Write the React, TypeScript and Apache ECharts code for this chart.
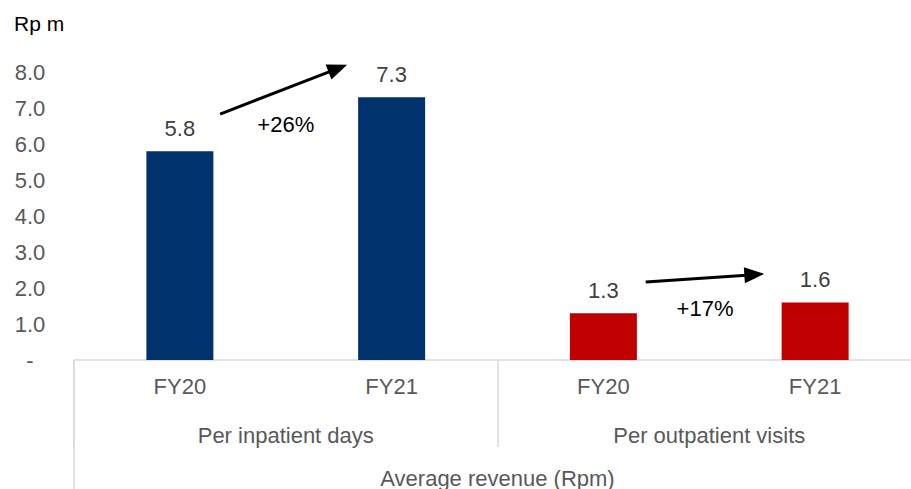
import React, { useEffect, useRef } from "react";
import * as echarts from "echarts";

const categories = ["FY20", "FY21", "FY20", "FY21"];
const groups = ["Per inpatient days", "Per outpatient visits"];
const topGroup = ["Average revenue (Rpm)"];
const values = [5.8, 7.3, 1.3, 1.6];
const barColors = ["#00336B", "#00336B", "#C00000", "#C00000"];
const yTicks = [0, 1, 2, 3, 4, 5, 6, 7, 8];
const growthLabels = ["+26%", "+17%"];

const FONT = "'Liberation Sans', Arial, sans-serif";
const FS = 22;

export default function App() {
  const ref = useRef<HTMLDivElement>(null);
  useEffect(() => {
    if (!ref.current) return;
    const chart = echarts.init(ref.current, undefined, { renderer: "svg" });
    const option: any = {
      animation: false,
      textStyle: { fontFamily: FONT },
      grid: { left: 74, top: 72, bottom: 129, right: 0 },
      title: {
        text: "Rp m",
        left: 9,
        top: 8,
        textStyle: { fontFamily: FONT, fontSize: 21, fontWeight: "normal", color: "#000" },
      },
      xAxis: [
        {
          type: "category",
          data: categories,
          gridIndex: 0,
          axisLine: { show: true, lineStyle: { color: "#D9D9D9", width: 1.5 } },
          axisTick: { show: false },
          axisLabel: { color: "#595959", fontSize: FS, margin: 15, fontFamily: FONT },
        },
        {
          type: "category",
          data: groups,
          gridIndex: 0,
          position: "bottom",
          axisLine: { show: false },
          axisTick: { show: true, length: 87, lineStyle: { color: "#D9D9D9", width: 1.5 } },
          axisLabel: { color: "#595959", fontSize: FS, margin: 64, fontFamily: FONT },
        },
        {
          type: "category",
          data: topGroup,
          gridIndex: 0,
          position: "bottom",
          axisLine: { show: false },
          axisTick: { show: true, length: 130, lineStyle: { color: "#D9D9D9", width: 1.5 } },
          axisLabel: { color: "#595959", fontSize: FS, margin: 107, fontFamily: FONT },
        },
      ],
      yAxis: {
        type: "value",
        min: yTicks[0],
        max: yTicks[yTicks.length - 1],
        interval: 1,
        axisLine: { show: false },
        axisTick: { show: false },
        splitLine: { show: false },
        axisLabel: {
          color: "#595959",
          fontSize: FS,
          align: "center",
          margin: 44,
          fontFamily: FONT,
          formatter: (v: number) => (v === 0 ? "-" : v.toFixed(1)),
        },
      },
      series: [
        {
          type: "bar",
          xAxisIndex: 0,
          barWidth: 67,
          data: values.map((v, i) => ({ value: v, itemStyle: { color: barColors[i] } })),
          label: {
            show: true,
            position: "top",
            distance: 12,
            color: "#404040",
            fontSize: FS,
            fontFamily: FONT,
            formatter: (p: any) => Number(p.value).toFixed(1),
          },
        },
      ],
    };
    chart.setOption(option);

    // annotations (arrows and growth labels) placed relative to the axes
    const p0 = chart.convertToPixel({ gridIndex: 0 }, [0, 0]) as number[];
    const p1 = chart.convertToPixel({ gridIndex: 0 }, [1, 0]) as number[];
    const bw = p1[0] - p0[0];
    const px = (cat: number, off: number, val: number) => {
      const c = chart.convertToPixel({ gridIndex: 0 }, [cat, val]) as number[];
      return [c[0] + off * bw, c[1]];
    };
    const arrows = [
      { from: px(0, 0.19, 6.83), to: px(1, -0.21, 8.2) },
      { from: px(2, 0.2, 2.17), to: px(3, -0.24, 2.39) },
    ];
    const texts = [px(0, 0.5, 6.53), px(2, 0.48, 1.42)];
    const graphic: any[] = [];
    arrows.forEach((a) => {
      const dx = a.to[0] - a.from[0];
      const dy = a.to[1] - a.from[1];
      const len = Math.sqrt(dx * dx + dy * dy);
      const ux = dx / len;
      const uy = dy / len;
      const nx = -uy;
      const ny = ux;
      const hl = 20;
      const hw = 8;
      const bx = a.to[0] - ux * hl;
      const by = a.to[1] - uy * hl;
      graphic.push({
        type: "line",
        shape: { x1: a.from[0], y1: a.from[1], x2: bx + ux * 2, y2: by + uy * 2 },
        style: { stroke: "#000", lineWidth: 3 },
        z: 100,
      });
      graphic.push({
        type: "polygon",
        shape: {
          points: [
            [a.to[0], a.to[1]],
            [bx + nx * hw, by + ny * hw],
            [bx - nx * hw, by - ny * hw],
          ],
        },
        style: { fill: "#000" },
        z: 100,
      });
    });
    texts.forEach((t, i) => {
      graphic.push({
        type: "text",
        x: t[0],
        y: t[1],
        style: {
          text: growthLabels[i],
          fill: "#000",
          font: `${FS}px ${FONT}`,
          align: "center",
          verticalAlign: "middle",
        },
        z: 100,
      });
    });
    chart.setOption({ graphic });

    return () => chart.dispose();
  }, []);
  return (
    <div style={{ position: "absolute", left: 0, top: 0, width: 911, height: 489, overflow: "hidden" }}>
      <div ref={ref} style={{ width: 921, height: 489 }} />
    </div>
  );
}
